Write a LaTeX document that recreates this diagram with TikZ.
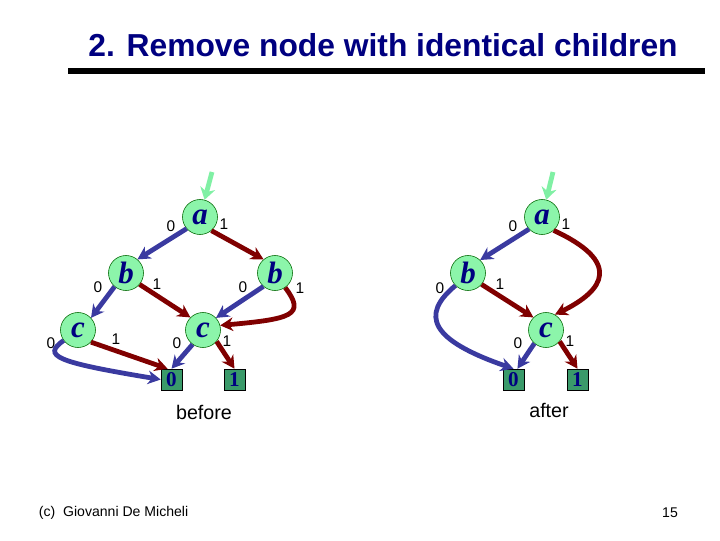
\documentclass[tikz,border=0pt]{standalone}
\usepackage{fontspec}
\setmainfont{Liberation Sans}
\newfontfamily\bddfont{Liberation Serif}
\usetikzlibrary{positioning,arrows.meta}
\definecolor{navy}{HTML}{000080}
\definecolor{varfill}{HTML}{8CF5AA}
\definecolor{entrygreen}{HTML}{80F0A4}
\definecolor{leaffill}{HTML}{3A9A6A}
\definecolor{zeroblue}{HTML}{3A3AA0}
\definecolor{onered}{HTML}{800000}

\begin{document}
\begin{tikzpicture}[
  x=0.025cm, y=-0.025cm,
  var/.style={circle, draw=black!60!green, fill=varfill, minimum size=0.875cm, inner sep=0pt, text=navy, font=\bddfont\bfseries\itshape\fontsize{22}{22}\selectfont},
  leaf/.style={rectangle, draw=black, fill=leaffill, minimum size=0.525cm, inner sep=0pt, text=navy, font=\bddfont\bfseries\fontsize{15}{15}\selectfont},
  lbl/.style={inner sep=0pt, font=\fontsize{11}{11}\selectfont},
  zeroarr/.style={-{Stealth[length=3.2mm, width=3.4mm]}, line width=3.4pt, zeroblue},
  onearr/.style={-{Stealth[length=3.2mm, width=3.4mm]}, line width=3.4pt, onered},
  entry/.style={-{Stealth[length=3mm, width=3.8mm]}, line width=3.4pt, entrygreen}]

\useasboundingbox (0,0) rectangle (720,540);

\node[text=navy, font=\bfseries\fontsize{22.6}{26}\selectfont] (title) at (383,45) {2. Remove node with identical children};
\draw[line width=4pt] (68,71) -- (705,71);

% before
\node[var] (aL) at (200,217) {a};
\node[var] (bL1) at (126,273) {b};
\node[var] (bL2) at (275,273) {b};
\node[var] (cL1) at (78,330) {c};
\node[var] (cL2) at (203,330) {c};
\node[leaf] (zeroL) at (171.5,379.5) {0};
\node[leaf] (oneL) at (234.5,379.5) {1};
\coordinate (inL) at (212,172);

\node[lbl] (aL0) at (171,226) {0};
\node[lbl] (aL1) at (224,224) {1};
\node[lbl] (bL10) at (98,287) {0};
\node[lbl] (bL11) at (157,284) {1};
\node[lbl] (bL20) at (243,287) {0};
\node[lbl] (bL21) at (300,288) {1};
\node[lbl] (cL10) at (51,343) {0};
\node[lbl] (cL11) at (116,339) {1};
\node[lbl] (cL20) at (177,343) {0};
\node[lbl] (cL21) at (227,341) {1};

\draw[entry] (inL) -- (aL);
\draw[zeroarr] (aL.221) -- (bL1.50);
\draw[onearr] (aL.-50) -- (bL2.130);
\draw[zeroarr] (bL1.230) -- (cL1.43);
\draw[onearr] (bL1.-40) -- (cL2.135);
\draw[zeroarr] (bL2.229) -- (cL2.43);
\draw[onearr] (bL2.-55) .. controls (306,315) and (292,319) .. (cL2.15);
\draw[zeroarr] (cL1.216) .. controls (42,356) and (55,362) .. (zeroL.west);
\draw[onearr] (cL1.-43) -- (zeroL.110);
\draw[zeroarr] (cL2.234) -- (zeroL.north);
\draw[onearr] (cL2.-40) -- (oneL.north);

\node[font=\fontsize{14}{14}\selectfont] (before) at (204,412) {before};

% after
\node[var] (aR) at (542,217) {a};
\node[var] (bR) at (468,273) {b};
\node[var] (cR) at (546,330) {c};
\node[leaf] (zeroR) at (513.5,379.5) {0};
\node[leaf] (oneR) at (577.5,379.5) {1};
\coordinate (inR) at (553,172);

\node[lbl] (aR0) at (513,226) {0};
\node[lbl] (aR1) at (566,224) {1};
\node[lbl] (bR0) at (440,288) {0};
\node[lbl] (bR1) at (500,284) {1};
\node[lbl] (cR0) at (518,343) {0};
\node[lbl] (cR1) at (570,341) {1};

\draw[entry] (inR) -- (aR);
\draw[zeroarr] (aR.223) -- (bR.47);
\draw[onearr] (aR.-49) .. controls (622,262) and (605,290) .. (cR.60);
\draw[onearr] (bR.-40) -- (cR.135);
\draw[zeroarr] (bR.225) .. controls (420,315) and (430,340) .. (zeroR.north);
\draw[zeroarr] (cR.229) -- (zeroR.70);
\draw[onearr] (cR.-40) -- (oneR.north);

\node[font=\fontsize{14}{14}\selectfont] (after) at (549,410) {after};

\node[anchor=west, font=\fontsize{10}{10}\selectfont] (credit) at (34,513) {(c)\ \ Giovanni De Micheli};
\node[font=\fontsize{10}{10}\selectfont] (page) at (670,513) {15};
\end{tikzpicture}
\end{document}
